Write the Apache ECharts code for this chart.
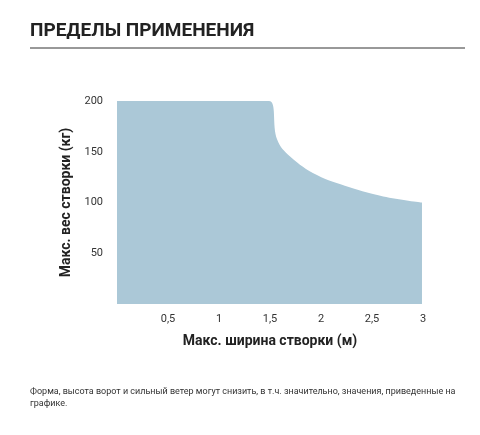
<!DOCTYPE html><html><head><meta charset="utf-8"><script src="https://cdn.jsdelivr.net/npm/echarts@6/dist/echarts.min.js"></script>
<style>body{margin:0}#c{width:480px;height:435px}</style></head><body><div id="c"></div><script>
const widths=[0,1.49,1.57,1.70,1.96,2.28,2.61,2.99];
const weights=[200,200,162,145,127,115,106,100];
const xTicks=['0,5','1','1,5','2','2,5','3'];
const F='"Liberation Sans Narrow","Roboto",sans-serif';
const ch=echarts.init(document.getElementById('c'));
ch.setOption({animation:false,
graphic:[{type:'text',left:30,top:22,style:{text:'ПРЕДЕЛЫ ПРИМЕНЕНИЯ',font:'bold 19px '+F,fill:'#222'}},
{type:'line',shape:{x1:30,y1:48,x2:465,y2:48},style:{stroke:'#333',lineWidth:1}},
{type:'text',left:30,top:386,style:{text:'Форма, высота ворот и сильный ветер могут снизить, в т.ч. значительно, значения, приведенные на\nграфике.',font:'9px '+F,fill:'#333',lineHeight:12}}],
grid:{left:117,right:57,top:101,bottom:131},
xAxis:{type:'value',min:0,max:3,interval:0.5,axisLine:{show:false},axisTick:{show:false},splitLine:{show:false},
axisLabel:{color:'#333',fontFamily:F,fontSize:11,margin:10,formatter:v=>v===0?'':xTicks[Math.round(v*2)-1]},
name:'Макс. ширина створки (м)',nameLocation:'middle',nameGap:30,nameTextStyle:{fontFamily:F,fontWeight:'bold',fontSize:14,color:'#222'}},
yAxis:{type:'value',min:0,max:200,interval:50,axisLine:{show:false},axisTick:{show:false},splitLine:{show:false},
axisLabel:{color:'#333',fontFamily:F,fontSize:11,margin:14,formatter:v=>v===0?'':String(v)},
name:'Макс. вес створки (кг)',nameLocation:'middle',nameGap:42,nameTextStyle:{fontFamily:F,fontWeight:'bold',fontSize:14,color:'#222'}},
series:[{type:'line',data:widths.map((w,i)=>[w,weights[i]]),smooth:0.4,symbol:'none',lineStyle:{width:0},areaStyle:{color:'#abc8d7',opacity:1}}]
});
</script></body></html>
